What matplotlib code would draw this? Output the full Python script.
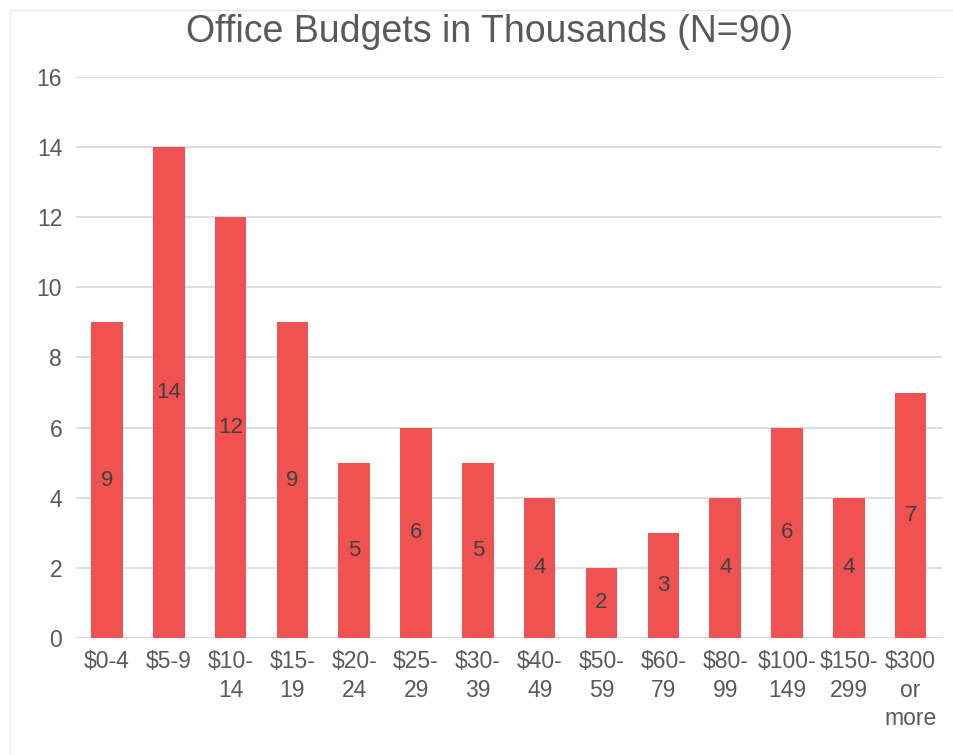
import matplotlib.pyplot as plt
from matplotlib.patches import Rectangle

plt.rcParams['font.family'] = ['Liberation Sans', 'DejaVu Sans']

budget_ranges = ['$0-4', '$5-9', '$10-\n14', '$15-\n19', '$20-\n24', '$25-\n29',
                 '$30-\n39', '$40-\n49', '$50-\n59', '$60-\n79', '$80-\n99',
                 '$100-\n149', '$150-\n299', '$300\nor\nmore']
office_counts = [9, 14, 12, 9, 5, 6, 5, 4, 2, 3, 4, 6, 4, 7]

fig = plt.figure(figsize=(9.54, 7.55), dpi=100)
ax = fig.add_axes([0.0797, 0.155, 0.9073, 0.743])

# faint chart frame
fig.patches.append(Rectangle((10 / 954, -0.01), 1.0, 1 - 10 / 755 + 0.01,
                             transform=fig.transFigure, fill=False,
                             edgecolor='#e6e6e6', linewidth=1.0))

x = range(len(budget_ranges))
bars = ax.bar(x, office_counts, width=0.51, color='#f05252', zorder=2)

for b, v in zip(bars, office_counts):
    ax.text(b.get_x() + b.get_width() / 2, v / 2, str(v), ha='center',
            va='center', fontsize=16, color='#404040', zorder=3)

ax.set_xlim(-0.5, len(budget_ranges) - 0.5)
ax.set_ylim(0, 16)
ax.set_yticks(range(0, 17, 2))
ax.yaxis.grid(True, color='#d9d9d9', linewidth=1.2, zorder=0)
ax.set_xticks(list(x))
ax.set_xticklabels(budget_ranges, fontsize=16.5, color='#595959',
                   linespacing=1.28, va='top')
ax.tick_params(axis='y', labelsize=16.5, labelcolor='#595959', length=0, pad=10)
ax.tick_params(axis='x', length=0, pad=9)
for s in ax.spines.values():
    s.set_visible(False)
ax.axhline(0, color='#d9d9d9', linewidth=1.2, zorder=1)

fig.text(0.513, 0.957, 'Office Budgets in Thousands (N=90)', ha='center',
         va='center', fontsize=27, color='#595959')

fig.savefig('out.png', dpi=100, facecolor='white')
